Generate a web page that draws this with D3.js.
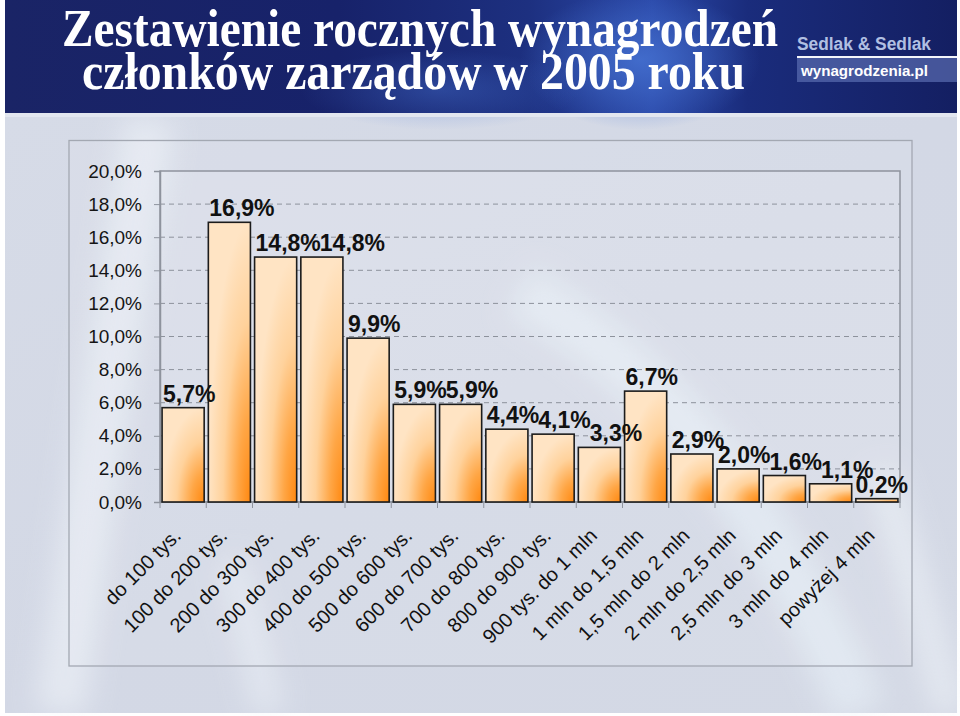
<!DOCTYPE html>
<html><head><meta charset="utf-8">
<script src="https://cdn.jsdelivr.net/npm/d3@7"></script>
<style>html,body{margin:0;padding:0;background:#fff;}svg{display:block;}</style>
</head><body>
<script>
const titleLines = ["Zestawienie rocznych wynagrodzeń", "członków zarządów w 2005 roku"];
const logoTop = "Sedlak & Sedlak";
const logoBottom = "wynagrodzenia.pl";
const categories = ["do 100 tys.","100 do 200 tys.","200 do 300 tys.","300 do 400 tys.","400 do 500 tys.","500 do 600 tys.","600 do 700 tys.","700 do 800 tys.","800 do 900 tys.","900 tys. do 1 mln","1 mln do 1,5 mln","1,5 mln do 2 mln","2 mln do 2,5 mln","2,5 mln do 3 mln","3 mln do 4 mln","powyżej 4 mln"];
const values = [5.7,16.9,14.8,14.8,9.9,5.9,5.9,4.4,4.1,3.3,6.7,2.9,2.0,1.6,1.1,0.2];
const yTicks = [0,2,4,6,8,10,12,14,16,18,20];

(function(){
const W = 960, H = 716;
const fmt = v => v.toFixed(1).replace('.', ',') + '%';
const svg = d3.select('body').append('svg').attr('width', W).attr('height', H);
const defs = svg.append('defs');

// gradients
const hdr = defs.append('linearGradient').attr('id','hdr').attr('x1',0).attr('x2',1).attr('y1',0).attr('y2',0);
[[0,'#1a2466'],[0.35,'#17226a'],[0.55,'#1d3080'],[0.68,'#2a48a8'],[0.78,'#1a2c7c'],[1,'#141f62']].forEach(s=>hdr.append('stop').attr('offset',s[0]).attr('stop-color',s[1]));
const glow = defs.append('radialGradient').attr('id','glow');
glow.append('stop').attr('offset',0).attr('stop-color','#4a78d8').attr('stop-opacity',0.75);
glow.append('stop').attr('offset',1).attr('stop-color','#4a78d8').attr('stop-opacity',0);
const bg = defs.append('linearGradient').attr('id','bg').attr('x1',0).attr('x2',1).attr('y1',0).attr('y2',1);
[[0,'#d6dbe7'],[0.5,'#d3d8e5'],[1,'#d4d9e5']].forEach(s=>bg.append('stop').attr('offset',s[0]).attr('stop-color',s[1]));
const barG = defs.append('radialGradient').attr('id','barG').attr('cx',1).attr('cy',1).attr('r',1).attr('fx',1).attr('fy',1);
[[0,'#ff8810'],[0.3,'#ffa645'],[0.65,'#ffd29c'],[1,'#ffe4c4']].forEach(s=>barG.append('stop').attr('offset',s[0]).attr('stop-color',s[1]));
defs.append('filter').attr('id','blur').attr('x','-50%').attr('y','-50%').attr('width','200%').attr('height','200%')
  .append('feGaussianBlur').attr('stdDeviation',14);

// slide background
svg.append('rect').attr('x',5).attr('y',113).attr('width',952).attr('height',600).attr('fill','url(#bg)');
const streaks = svg.append('g').attr('filter','url(#blur)').attr('opacity',0.55);
streaks.append('path').attr('d','M150,120 C120,300 90,500 60,713').attr('stroke','#f2f6fb').attr('stroke-width',50).attr('fill','none');
streaks.append('path').attr('d','M520,290 C640,360 760,480 860,713').attr('stroke','#eaf3fa').attr('stroke-width',55).attr('fill','none');
streaks.append('path').attr('d','M880,470 C910,560 930,640 950,713').attr('stroke','#f2f6fb').attr('stroke-width',30).attr('fill','none');
streaks.append('path').attr('d','M230,560 C250,620 260,680 270,713').attr('stroke','#eef3f9').attr('stroke-width',30).attr('fill','none');

// header
svg.append('rect').attr('x',5).attr('y',0).attr('width',952).attr('height',113).attr('fill','url(#hdr)');
svg.append('ellipse').attr('cx',640).attr('cy',60).attr('rx',120).attr('ry',70).attr('fill','url(#glow)');
svg.append('ellipse').attr('cx',440).attr('cy',90).attr('rx',140).attr('ry',40).attr('fill','url(#glow)').attr('opacity',0.5);
svg.append('rect').attr('x',5).attr('y',113).attr('width',952).attr('height',4).attr('fill','#e2e6ef');

const serif = '"Liberation Serif","Times New Roman",serif';
svg.append('text').attr('x',62).attr('y',46).text(titleLines[0])
  .attr('font-family',serif).attr('font-weight','bold').attr('font-size',52)
  .attr('fill','#fff').attr('textLength',716).attr('lengthAdjust','spacingAndGlyphs');
svg.append('text').attr('x',82).attr('y',89).text(titleLines[1])
  .attr('font-family',serif).attr('font-weight','bold').attr('font-size',52)
  .attr('fill','#fff').attr('textLength',663).attr('lengthAdjust','spacingAndGlyphs');

// logo
const sans = '"Liberation Sans",Arial,sans-serif';
svg.append('text').attr('x',797).attr('y',50).text(logoTop)
  .attr('font-family',sans).attr('font-weight','bold').attr('font-size',18)
  .attr('fill','#b0bfe2').attr('textLength',134).attr('lengthAdjust','spacingAndGlyphs');
svg.append('rect').attr('x',797).attr('y',56).attr('width',160).attr('height',2).attr('fill','#f4f6fb');
svg.append('rect').attr('x',797).attr('y',58).attr('width',160).attr('height',24).attr('fill','#5a6cb0').attr('opacity',0.7);
svg.append('text').attr('x',801).attr('y',76).text(logoBottom)
  .attr('font-family',sans).attr('font-weight','bold').attr('font-size',15)
  .attr('fill','#fff').attr('textLength',127).attr('lengthAdjust','spacingAndGlyphs');

// chart frame
svg.append('rect').attr('x',69).attr('y',140.5).attr('width',843).attr('height',525.5)
  .attr('fill','#ffffff').attr('fill-opacity',0.08).attr('stroke','#a3a8b2').attr('stroke-width',1.3);

const pL = 160, pR = 900, pT = 171, pB = 502;
const x = d3.scaleBand().domain(categories).range([pL, pR]).paddingInner(0.09).paddingOuter(0.045);
const y = d3.scaleLinear().domain([0, 20]).range([pB, pT]);

svg.append('rect').attr('x',pL).attr('y',pT).attr('width',pR-pL).attr('height',pB-pT)
  .attr('fill','#ffffff').attr('fill-opacity',0.1);

// gridlines
svg.append('g').selectAll('line').data(yTicks.filter(t => t > 0 && t < 20)).join('line')
  .attr('x1',pL).attr('x2',pR).attr('y1',d=>y(d)).attr('y2',d=>y(d))
  .attr('stroke','#8d929c').attr('stroke-width',1).attr('stroke-dasharray','5,4');

// plot border
svg.append('rect').attr('x',pL).attr('y',pT).attr('width',pR-pL).attr('height',pB-pT)
  .attr('fill','none').attr('stroke','#8e939d').attr('stroke-width',1.5);

// y axis
const yAxis = svg.append('g').attr('transform',`translate(${pL},0)`)
  .call(d3.axisLeft(y).tickValues(yTicks).tickFormat(fmt).tickSize(6).tickPadding(12));
yAxis.select('.domain').attr('stroke','#8e939d').attr('stroke-width',1.5);
yAxis.selectAll('.tick line').attr('stroke','#8e939d');
yAxis.selectAll('text').attr('font-family',sans).attr('font-size',19).attr('fill','#151515');

// x axis ticks at band boundaries
const step = x.step();
svg.append('g').selectAll('line').data(d3.range(categories.length + 1)).join('line')
  .attr('x1', i => pL + i * step).attr('x2', i => pL + i * step)
  .attr('y1', pB).attr('y2', pB + 6).attr('stroke','#8e939d').attr('stroke-width',1);
svg.append('line').attr('x1',pL).attr('x2',pR).attr('y1',pB).attr('y2',pB).attr('stroke','#8e939d').attr('stroke-width',1.5);

// bars
svg.append('g').selectAll('rect').data(values).join('rect')
  .attr('x',(d,i)=>x(categories[i])).attr('width',x.bandwidth())
  .attr('y',d=>y(d)).attr('height',d=>y(0)-y(d))
  .attr('fill','url(#barG)').attr('stroke','#1c1c1c').attr('stroke-width',1.6);

// value labels: left-aligned at bar, nudged right when they collide with the previous one
const lblFont = 23, capH = 16.5;
const labels = svg.append('g').selectAll('text').data(values).join('text')
  .attr('font-family',sans).attr('font-weight','bold').attr('font-size',lblFont)
  .attr('fill','#111').text(fmt);
let prev = null;
labels.each(function(d, i){
  const w = this.getComputedTextLength();
  let lx = x(categories[i]) + 1;
  const bl = y(d) - 6;
  if (prev) {
    const vOverlap = Math.min(bl, prev.bl) - Math.max(bl - capH, prev.bl - capH);
    if (vOverlap > 3 && lx < prev.x1 - 1) lx = prev.x1 - 1;
  }
  lx = Math.min(lx, 908 - w);
  d3.select(this).attr('x', lx).attr('y', bl);
  prev = {x1: lx + w, bl};
});

// category labels
svg.append('g').selectAll('text').data(categories).join('text')
  .attr('transform', d => `translate(${x(d) + x.bandwidth()/2 - 1},${pB + 35}) rotate(-45)`)
  .attr('text-anchor','end')
  .attr('font-family',sans).attr('font-size',20)
  .attr('fill','#111').text(d => d);
})();
</script>
</body></html>
